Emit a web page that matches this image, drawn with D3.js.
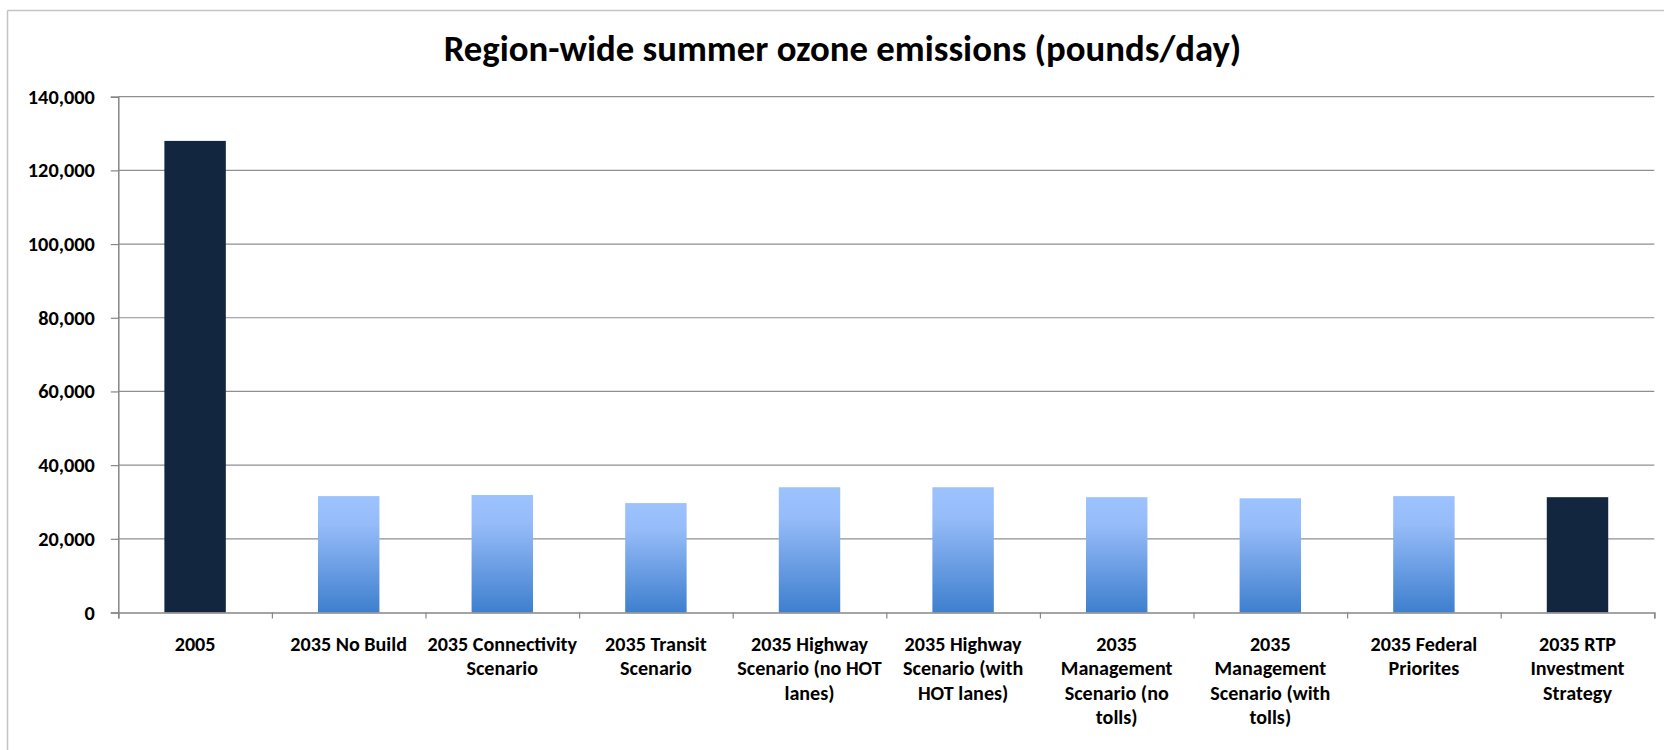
<!DOCTYPE html>
<html>
<head>
<meta charset="utf-8">
<script src="https://cdn.jsdelivr.net/npm/d3@7"></script>
<style>
  html, body { margin: 0; padding: 0; background: #fff; }
  svg { display: block; }
  text { font-family: Carlito, Lato, "Open Sans", sans-serif; font-weight: bold; fill: #000; }
</style>
</head>
<body>
<svg id="chart" width="1664" height="750"></svg>
<script>
const title = "Region-wide summer ozone emissions (pounds/day)";
const categories = [
  "2005",
  "2035 No Build",
  "2035 Connectivity\nScenario",
  "2035 Transit\nScenario",
  "2035 Highway\nScenario (no HOT\nlanes)",
  "2035 Highway\nScenario (with\nHOT lanes)",
  "2035\nManagement\nScenario (no\ntolls)",
  "2035\nManagement\nScenario (with\ntolls)",
  "2035 Federal\nPriorites",
  "2035 RTP\nInvestment\nStrategy"
];
const values = [128000, 31600, 31900, 29700, 34000, 34000, 31300, 31000, 31600, 31300];
const highlighted = [true, false, false, false, false, false, false, false, false, true];
const yTicks = [0, 20000, 40000, 60000, 80000, 100000, 120000, 140000];

(function () {
const svg = d3.select("#chart");
const pLeft = 118.3, pRight = 1654.3, pTop = 96.7, pBottom = 612.5;

// frame
svg.append("line").attr("x1", 7.5).attr("x2", 7.5).attr("y1", 10.5).attr("y2", 750)
  .attr("stroke", "#c4c4c4").attr("stroke-width", 1.5);
svg.append("line").attr("x1", 7.5).attr("x2", 1664).attr("y1", 10.5).attr("y2", 10.5)
  .attr("stroke", "#c4c4c4").attr("stroke-width", 1.5);

const x = d3.scaleBand().domain(categories).range([pLeft, pRight]).paddingInner(0.6).paddingOuter(0.3);
const y = d3.scaleLinear().domain([0, 140000]).range([pBottom, pTop]);

// gradient
const defs = svg.append("defs");
const grad = defs.append("linearGradient").attr("id", "barGrad")
  .attr("x1", 0).attr("x2", 0).attr("y1", 0).attr("y2", 1);
grad.append("stop").attr("offset", "0%").attr("stop-color", "#9dc3ff");
grad.append("stop").attr("offset", "25%").attr("stop-color", "#95bbf8");
grad.append("stop").attr("offset", "100%").attr("stop-color", "#3e7fce");

// gridlines
svg.append("g").selectAll("line").data(yTicks.filter(d => d > 0)).join("line")
  .attr("x1", pLeft).attr("x2", pRight)
  .attr("y1", d => y(d)).attr("y2", d => y(d))
  .attr("stroke", "#8f8f8f").attr("stroke-width", 1.2);

// bars
svg.append("g").selectAll("rect").data(values).join("rect")
  .attr("x", (d, i) => x(categories[i]))
  .attr("width", x.bandwidth())
  .attr("y", d => y(d))
  .attr("height", d => y(0) - y(d))
  .attr("fill", (d, i) => highlighted[i] ? "#132640" : "url(#barGrad)");

// y axis
const yAxis = svg.append("g").attr("transform", `translate(${pLeft},0)`)
  .call(d3.axisLeft(y).tickValues(yTicks).tickSize(7.5).tickPadding(16)
    .tickFormat(d3.format(",")));
yAxis.attr("font-family", null).attr("font-size", null);
yAxis.select(".domain").attr("stroke", "#868686").attr("stroke-width", 1.5);
yAxis.selectAll(".tick line").attr("stroke", "#868686").attr("stroke-width", 1.2);
yAxis.selectAll("text").style("font-size", "18px");

// x axis
const xLin = d3.scaleLinear().domain([0, categories.length]).range([pLeft, pRight]);
const xAxis = svg.append("g").attr("transform", `translate(0,${pBottom})`)
  .call(d3.axisBottom(xLin).tickValues(d3.range(categories.length + 1)).tickSize(6).tickFormat(""));
xAxis.select(".domain").attr("stroke", "#868686").attr("stroke-width", 1.5);
xAxis.selectAll(".tick line").attr("stroke", "#868686").attr("stroke-width", 1.2);

// category labels
const labels = svg.append("g");
categories.forEach(c => {
  const cx = x(c) + x.bandwidth() / 2;
  const t = labels.append("text")
    .attr("text-anchor", "middle")
    .attr("x", cx)
    .attr("y", 650.7)
    .style("font-size", "18px");
  c.split("\n").forEach((line, k) => {
    t.append("tspan").attr("x", cx).attr("y", 650.7 + k * 24.5).text(line);
  });
});

// title
const titleText = svg.append("text").attr("text-anchor", "middle")
  .attr("x", 842.5).attr("y", 60.7).style("font-size", "32px").text(title);

// fit font sizes to reference text widths
const tw = titleText.node().getComputedTextLength();
if (tw > 0) titleText.style("font-size", (32 * 798 / tw) + "px");

const yLabelNodes = yAxis.selectAll("text").nodes();
const y140 = yLabelNodes[yLabelNodes.length - 1];
const yw = y140.getComputedTextLength();
if (yw > 0) yAxis.selectAll("text").style("font-size", (18 * 67 / yw) + "px");

const nbNode = labels.selectAll("text").nodes()[1];
const nw = nbNode.getComputedTextLength();
if (nw > 0) labels.selectAll("text").style("font-size", (18 * 116.7 / nw) + "px");
})();
</script>
</body>
</html>
